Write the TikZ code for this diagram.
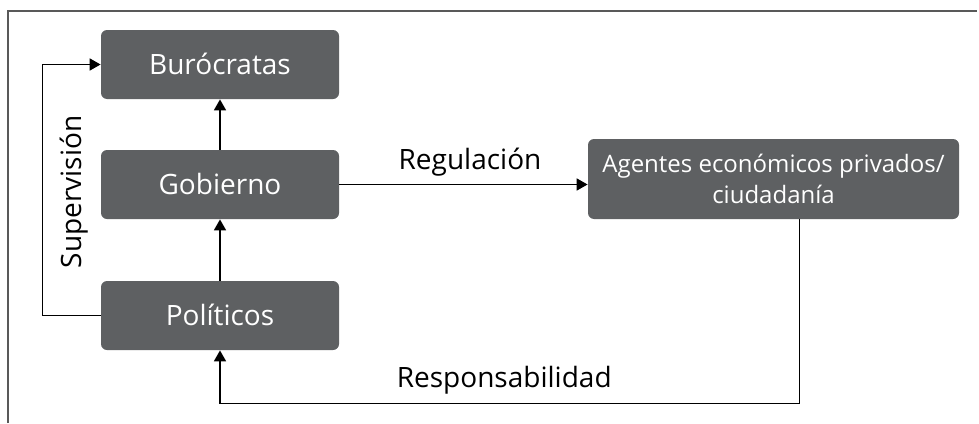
\documentclass[tikz,border=0pt]{standalone}
\usepackage{fontspec}
\setmainfont{Open Sans}
\usepackage{tikz}
\usetikzlibrary{shapes,arrows.meta}
\usetikzlibrary{positioning}
\definecolor{boxgray}{HTML}{5E6062}
\tikzstyle{box} = [draw=none, rectangle, rounded corners=3pt, fill=boxgray,
    text=white, inner sep=0pt]
\tikzstyle{pbox} = [box, minimum width=119pt, minimum height=34.5pt,
    font=\fontsize{14}{17}\selectfont, text height=9.5pt, text depth=0pt]
\tikzstyle{lbl} = [font=\fontsize{14}{17}\selectfont, inner sep=0pt]
\tikzstyle{line} = [draw, line width=0.85pt,
    -{Triangle[length=5.5pt,width=6pt]}]

\begin{document}
\begin{tikzpicture}[node distance = 60pt, auto]
  \useasboundingbox (0,0) rectangle (489.5pt,-211.5pt);
  % frame
  \draw [black!65, line width=1pt] (4pt,-211.5pt) -- (4pt,-5.25pt)
    -- (488.5pt,-5.25pt);
  \node [pbox] (bur) at (110pt,-32.25pt) {Burócratas};
  \node [pbox, below of=bur, node distance = 60pt] (gob) {Gobierno};
  \node [pbox, below of=gob, node distance = 65.5pt] (pol) {Políticos};
  \node [box, right of=gob, node distance = 276.75pt, yshift=2.75pt,
    minimum width=185.5pt, minimum height=40pt, align=center,
    font=\fontsize{12}{15.3}\selectfont] (age)
  {Agentes económicos privados/\\ciudadanía};
  \coordinate (c1) at ([xshift=13pt,yshift=-92pt]age.south);
  \draw [line] (gob) -- (bur);
  \draw [line] (pol) -- (gob);
  \draw [line] (gob.east) -- node [lbl, anchor=base, xshift=3.25pt,
    yshift=7.5pt] (reg) {Regulación} (gob.east -| age.west);
  \draw [line] (pol.west) -- ++(-29pt,0) |- (bur.west);
  \node [lbl, rotate=90, anchor=base] (sup) at (40.85pt,-96pt)
  {Supervisión};
  \draw [line] ([xshift=13pt]age.south) -- (c1) -- node [lbl, anchor=base,
    xshift=-2.75pt, yshift=8pt] (res) {Responsabilidad} (c1 -| pol.south)
    -- (pol.south);
\end{tikzpicture}
\end{document}
